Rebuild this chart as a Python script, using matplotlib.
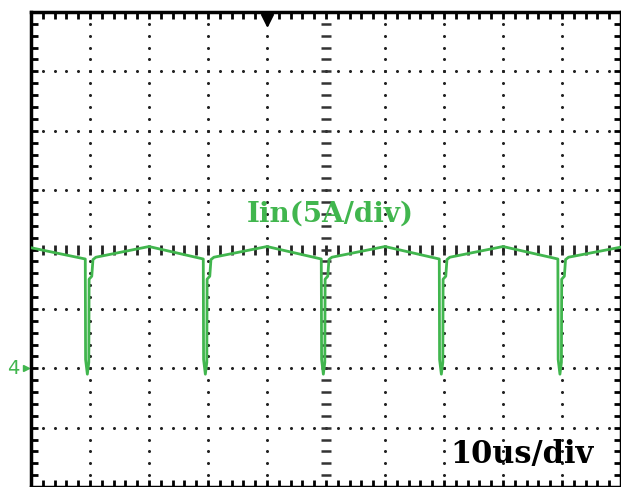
import numpy as np
import matplotlib
matplotlib.use("Agg")
import matplotlib.pyplot as plt

# scope trace: time in us, current in divisions (5 A/div), center line = 0
t_us = [0.0, 9.2, 9.25, 9.55, 9.8, 9.85, 10.3, 10.5, 11.0, 20.0,
        29.2, 29.25, 29.55, 29.8, 29.85, 30.3, 30.5, 31.0, 40.0,
        49.2, 49.25, 49.55, 49.8, 49.85, 50.3, 50.5, 51.0, 60.0,
        69.2, 69.25, 69.55, 69.8, 69.85, 70.3, 70.5, 71.0, 80.0,
        89.3, 89.35, 89.65, 89.9, 89.95, 90.4, 90.6, 91.1, 100.0]
i_div = [0.03, -0.16, -1.85, -2.1, -1.9, -0.5, -0.45, -0.17, -0.13, 0.05,
         -0.16, -1.85, -2.1, -1.9, -0.5, -0.45, -0.17, -0.13, 0.05,
         -0.16, -1.85, -2.1, -1.9, -0.5, -0.45, -0.17, -0.13, 0.05,
         -0.16, -1.85, -2.1, -1.9, -0.5, -0.45, -0.17, -0.13, 0.05,
         -0.16, -1.85, -2.1, -1.9, -0.5, -0.45, -0.17, -0.13, 0.04]

ch_label = "Iin(5A/div)"
time_label = "10us/div"
ground_label = "4"
ground_level = -2.0
trigger_time = 40.0

green = "#41b64e"

fig = plt.figure(figsize=(6.21, 4.87), dpi=100)
ax = fig.add_axes([31 / 621, 0 / 487, 590 / 621, 475 / 487])
ax.set_xlim(0, 100)
ax.set_ylim(-4, 4)

# dotted graticule
xs_major = np.arange(0, 101, 10)
ys_major = np.arange(-4, 4.01, 1)
x_minor = np.arange(0, 100.01, 2)
y_minor = np.arange(-4, 4.001, 0.2)
for x in xs_major[1:-1]:
    if x == 50:
        continue
    ax.plot([x] * len(y_minor), y_minor, ls="none", marker="o", ms=2.2,
            color="#222222", mew=0)
for y in ys_major[1:-1]:
    if y == 0:
        continue
    ax.plot(x_minor, [y] * len(x_minor), ls="none", marker="o", ms=2.2,
            color="#222222", mew=0)
# center lines with tick marks
ax.plot(x_minor, [0] * len(x_minor), ls="none", marker="|", ms=7, mew=2,
        color="#222222")
ax.plot([50] * len(y_minor), y_minor, ls="none", marker="_", ms=7, mew=1.8,
        color="#333333")

# border ticks
ax.set_xticks(x_minor)
ax.set_yticks(y_minor)
ax.set_xticklabels([])
ax.set_yticklabels([])
ax.tick_params(direction="in", length=5, width=2, color="black",
               top=True, right=True, bottom=True, left=True)
for s in ax.spines.values():
    s.set_linewidth(2.5)

# trace
ax.plot(t_us, i_div, color=green, lw=2, zorder=5)

# trigger marker
ax.plot([trigger_time], [3.86], marker="v", ms=9, color="black",
        clip_on=False, zorder=6)

# ground marker
ax.plot([-0.8], [ground_level], marker=">", ms=5, color=green, clip_on=False)
ax.text(-1.9, ground_level, ground_label, color=green, fontsize=14,
        ha="right", va="center", family="DejaVu Sans")

ax.text(50.7, 0.6, ch_label, color=green, fontsize=20, fontweight="bold",
        ha="center", va="center", family="DejaVu Serif")
ax.text(83.2, -3.46, time_label, color="black", fontsize=22,
        fontweight="bold", ha="center", va="center", family="DejaVu Serif")

fig.savefig("out.png", dpi=100)
